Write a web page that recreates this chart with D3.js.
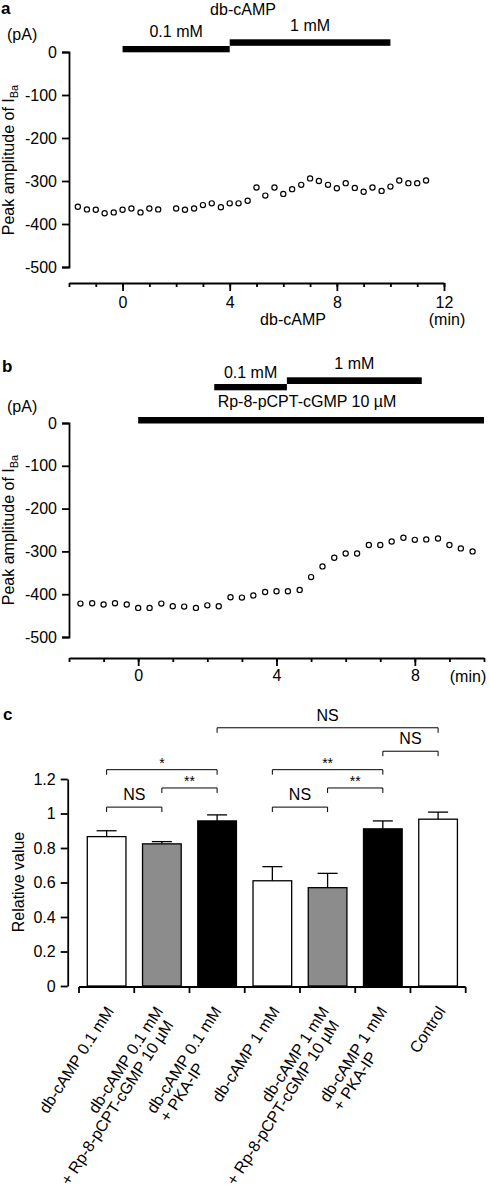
<!DOCTYPE html>
<html><head><meta charset="utf-8">
<script src="https://cdn.jsdelivr.net/npm/d3@7"></script>
<style>
body{margin:0;background:#fff}
svg{display:block}
text{font-family:"Liberation Sans",Arial,Helvetica,sans-serif;fill:#000}
</style>
</head><body>
<svg id="chart" width="490" height="1188"></svg>
<script>
// ---------- Panel a data ----------
const timeA = [-1.67,-1.33,-1,-0.67,-0.33,0,0.33,0.67,1,1.33,
  2,2.33,2.67,3,3.33,3.67,4,4.33,4.67,5,5.33,5.67,6,6.33,6.67,7,7.33,7.67,8,8.33,8.67,9,9.33,9.67,10,10.33,10.67,11,11.33];
const currentA = [-360,-366,-367,-375,-373,-367,-364,-373,-364,-366,
  -364,-367,-364,-356,-352,-361,-352,-352,-346,-315,-334,-315,-330,-319,-309,-294,-300,-309,-317,-305,-316,-325,-315,-323,-313,-299,-305,-305,-299];
const treatmentsA = [["0.1 mM",0,4],["1 mM",4,10]];
const yTicksA = [0,-100,-200,-300,-400,-500];
const xMajorA = [0,4,8,12];
const xMinorA = [-2,-1,0,1,2,3,4,5,6,7,8,9,10,11,12];

// ---------- Panel b data ----------
const timeB = [-1.67,-1.33,-1,-0.67,-0.33,0,0.33,0.67,1,1.33,1.67,2,2.33,2.67,3,3.33,3.67,4,4.33,
  4.67,5,5.33,5.67,6,6.33,6.67,7,7.33,7.67,8,8.33,8.67,9,9.33,9.67];
const currentB = [-422,-421,-424,-421,-424,-432,-432,-422,-428,-429,-432,-426,-428,-407,-408,-403,-395,-393,-393,
  -390,-360,-335,-315,-305,-305,-285,-285,-277,-268,-273,-272,-270,-285,-293,-300];
const treatmentsB = [["0.1 mM",2.2,4.3],["1 mM",4.3,8.2]];
const inhibitorB = [["Rp-8-pCPT-cGMP 10 µM",0,10]];
const yTicksB = [0,-100,-200,-300,-400,-500];
const xMajorB = [0,4,8];
const xMinorB = [-2,-1,0,1,2,3,4,5,6,7,8,9,10];

// ---------- Panel c data ----------
const groups = [
  ["db-cAMP 0.1 mM"],
  ["db-cAMP 0.1 mM","+ Rp-8-pCPT-cGMP 10 µM"],
  ["db-cAMP 0.1 mM","+ PKA-IP"],
  ["db-cAMP 1 mM"],
  ["db-cAMP 1 mM","+ Rp-8-pCPT-cGMP 10 µM"],
  ["db-cAMP 1 mM","+ PKA-IP"],
  ["Control"]
];
const relMean = [0.866,0.824,0.957,0.610,0.570,0.911,0.967];
const relErr  = [0.034,0.013,0.035,0.082,0.083,0.046,0.041];
const barFill = ["#fff","#8c8c8c","#000","#fff","#8c8c8c","#000","#fff"];
const yTicksC = [0,0.2,0.4,0.6,0.8,1,1.2];
// comparisons: [from, to, label, bracket level (relative value units)]
const comparisons = [
  [2,6,"NS",1.497],
  [5,6,"NS",1.361],
  [0,2,"*",1.254],
  [3,5,"**",1.254],
  [1,2,"**",1.148],
  [4,5,"**",1.148],
  [0,1,"NS",1.037],
  [3,4,"NS",1.037]
];

// ---------- drawing ----------
const svg = d3.select("#chart");
const FONT = '"Liberation Sans",Arial,Helvetica,sans-serif';

function styleAxis(g){
  g.attr("font-size",16).attr("font-family",FONT);
  g.selectAll("path,line").attr("stroke","#000").attr("stroke-width",1.8);
  g.selectAll("text").attr("fill","#000");
}
function panelLetter(t,x,y){
  svg.append("text").attr("x",x).attr("y",y).attr("font-size",17).attr("font-weight","bold").text(t);
}
function yLabelIBa(cx,cy){
  const t = svg.append("text").attr("transform",`translate(${cx},${cy}) rotate(-90)`)
    .attr("text-anchor","middle").attr("font-size",16);
  t.append("tspan").text("Peak amplitude of I");
  t.append("tspan").attr("font-size",11).attr("dy","0.35em").text("Ba");
}

// ===== Panel a =====
const xA = d3.scaleLinear().domain([-2,12]).range([69,444]);
const yA = d3.scaleLinear().domain([-500,0]).range([267,52]);
panelLetter("a",1,14);
svg.append("text").attr("x",7).attr("y",40).attr("font-size",16).text("(pA)");
svg.append("g").attr("transform","translate(69,0)")
  .call(d3.axisLeft(yA).tickValues(yTicksA).tickSize(7).tickSizeOuter(7).tickPadding(5).tickFormat(d=>String(d)))
  .call(styleAxis);
svg.append("g").attr("transform","translate(0,283)")
  .call(d3.axisBottom(xA).tickValues(xMinorA).tickSize(4).tickSizeOuter(0).tickFormat(""))
  .call(styleAxis);
svg.append("g").attr("transform","translate(0,283)")
  .call(d3.axisBottom(xA).tickValues(xMajorA).tickSize(8).tickSizeOuter(0).tickPadding(6).tickFormat(d=>String(d)))
  .call(styleAxis).call(g=>g.select(".domain").remove());
svg.append("text").attr("x",447).attr("y",325).attr("text-anchor","middle").attr("font-size",16).text("(min)");
svg.append("text").attr("x",293).attr("y",325).attr("text-anchor","middle").attr("font-size",16).text("db-cAMP");
yLabelIBa(14,160);
// treatment bars
svg.append("text").attr("x",243).attr("y",14.5).attr("text-anchor","middle").attr("font-size",16).text("db-cAMP");
const barLevelA = [{y:46,h:6.3,ty:37},{y:39.3,h:6.5,ty:30.5}];
treatmentsA.forEach((d,i)=>{
  const L = barLevelA[i];
  svg.append("rect").attr("x",xA(d[1])).attr("y",L.y).attr("width",xA(d[2])-xA(d[1])).attr("height",L.h).attr("fill","#000");
  svg.append("text").attr("x",(xA(d[1])+xA(d[2]))/2).attr("y",L.ty).attr("text-anchor","middle").attr("font-size",16).text(d[0]);
});
svg.append("g").selectAll("circle").data(timeA.map((t,i)=>[t,currentA[i]])).join("circle")
  .attr("cx",d=>xA(d[0])).attr("cy",d=>yA(d[1])).attr("r",2.6)
  .attr("fill","#fff").attr("stroke","#000").attr("stroke-width",1.2);

// ===== Panel b =====
const xB = d3.scaleLinear().domain([-2,10]).range([69,484]);
const yB = d3.scaleLinear().domain([-500,0]).range([637,423]);
panelLetter("b",2,372);
svg.append("text").attr("x",7).attr("y",412).attr("font-size",16).text("(pA)");
svg.append("g").attr("transform","translate(69,0)")
  .call(d3.axisLeft(yB).tickValues(yTicksB).tickSize(7).tickSizeOuter(7).tickPadding(5).tickFormat(d=>String(d)))
  .call(styleAxis);
svg.append("g").attr("transform","translate(0,658)")
  .call(d3.axisBottom(xB).tickValues(xMinorB).tickSize(4).tickSizeOuter(0).tickFormat(""))
  .call(styleAxis);
svg.append("g").attr("transform","translate(0,658)")
  .call(d3.axisBottom(xB).tickValues(xMajorB).tickSize(8).tickSizeOuter(0).tickPadding(4).tickFormat(d=>String(d)))
  .call(styleAxis).call(g=>g.select(".domain").remove());
svg.append("text").attr("x",468).attr("y",681.5).attr("text-anchor","middle").attr("font-size",16).text("(min)");
yLabelIBa(14,530);
const barLevelB = [{y:384,h:6.3,ty:378},{y:377.3,h:6.7,ty:369}];
treatmentsB.forEach((d,i)=>{
  const L = barLevelB[i];
  svg.append("rect").attr("x",xB(d[1])).attr("y",L.y).attr("width",xB(d[2])-xB(d[1])).attr("height",L.h).attr("fill","#000");
  svg.append("text").attr("x",(xB(d[1])+xB(d[2]))/2).attr("y",L.ty).attr("text-anchor","middle").attr("font-size",16).text(d[0]);
});
inhibitorB.forEach(d=>{
  svg.append("rect").attr("x",xB(d[1])).attr("y",417).attr("width",xB(d[2])-xB(d[1])).attr("height",6.5).attr("fill","#000");
  svg.append("text").attr("x",307).attr("y",407).attr("text-anchor","middle").attr("font-size",16).text(d[0]);
});
svg.append("g").selectAll("circle").data(timeB.map((t,i)=>[t,currentB[i]])).join("circle")
  .attr("cx",d=>xB(d[0])).attr("cy",d=>yB(d[1])).attr("r",2.6)
  .attr("fill","#fff").attr("stroke","#000").attr("stroke-width",1.2);

// ===== Panel c =====
const idx = groups.map((g,i)=>i);
const xC = d3.scaleBand().domain(idx).range([79,465.7]).paddingInner(0.3).paddingOuter(0.15);
const yC = d3.scaleLinear().domain([0,1.2]).range([986,779]);
panelLetter("c",3,720);
svg.append("g").attr("transform","translate(67.7,0)")
  .call(d3.axisLeft(yC).tickValues(yTicksC).tickSize(7).tickSizeOuter(0).tickPadding(5).tickFormat(d=>String(+d.toFixed(1))))
  .call(styleAxis);
svg.append("text").attr("transform","translate(24,882) rotate(-90)").attr("text-anchor","middle").attr("font-size",16).text("Relative value");
// x axis with boundary ticks
const gx = svg.append("g").attr("transform","translate(0,987)");
gx.append("line").attr("x1",xC.range()[0]).attr("x2",xC.range()[1]).attr("stroke","#000").attr("stroke-width",1.8);
gx.selectAll("line.tk").data(d3.range(groups.length+1)).join("line").attr("class","tk")
  .attr("x1",i=>xC.range()[0]+i*xC.step()).attr("x2",i=>xC.range()[0]+i*xC.step())
  .attr("y1",0).attr("y2",6).attr("stroke","#000").attr("stroke-width",1.8);
const cx = i => xC(i)+xC.bandwidth()/2;
// error bars
svg.append("g").selectAll("g").data(idx).join("g").each(function(i){
  const g = d3.select(this);
  g.append("line").attr("x1",cx(i)).attr("x2",cx(i)).attr("y1",yC(relMean[i])).attr("y2",yC(relMean[i]+relErr[i])).attr("stroke","#000").attr("stroke-width",1.3);
  g.append("line").attr("x1",cx(i)-10).attr("x2",cx(i)+10).attr("y1",yC(relMean[i]+relErr[i])).attr("y2",yC(relMean[i]+relErr[i])).attr("stroke","#000").attr("stroke-width",1.3);
});
svg.append("g").selectAll("rect").data(idx).join("rect")
  .attr("x",i=>xC(i)).attr("width",xC.bandwidth())
  .attr("y",i=>yC(relMean[i])).attr("height",i=>yC(0)-yC(relMean[i]))
  .attr("fill",i=>barFill[i]).attr("stroke","#000").attr("stroke-width",1.3);
// brackets
comparisons.forEach(([a,b,lab,lev])=>{
  const y = yC(lev), x1 = cx(a), x2 = cx(b);
  svg.append("path").attr("d",`M${x1},${y+5}V${y}H${x2}V${y+5}`).attr("fill","none").attr("stroke","#000").attr("stroke-width",1);
  const star = lab.indexOf("*")>=0;
  svg.append("text").attr("x",(x1+x2)/2).attr("y",star? y-1.5 : y-7).attr("text-anchor","middle")
    .attr("font-size",star?14:16).text(lab);
});
// rotated category labels
const ANG = -57, rad = ANG*Math.PI/180;
const ux = Math.cos(rad), uy = Math.sin(rad);      // along text
const px = -Math.sin(rad), py = Math.cos(rad);     // perpendicular (down in text frame)
const FS = 16, LH = 16;
groups.forEach((lines,i)=>{
  const c = cx(i), ay = 1011;
  if(lines.length===1){
    svg.append("text").attr("transform",`translate(${c+8},${ay}) rotate(${ANG})`)
      .attr("text-anchor","end").attr("font-size",FS).text(lines[0]);
    return;
  }
  const t1 = svg.append("text").attr("text-anchor","end").attr("font-size",FS).text(lines[0]);
  const t2 = svg.append("text").attr("font-size",FS).text(lines[1]);
  const w1 = t1.node().getComputedTextLength(), w2 = t2.node().getComputedTextLength();
  if(w2>w1){
    const ax = c+2;
    t1.attr("transform",`translate(${ax},${ay}) rotate(${ANG})`);
    t2.attr("text-anchor","end").attr("transform",`translate(${ax+px*LH-ux*6},${ay+py*LH-uy*6}) rotate(${ANG})`);
  } else {
    const ax = c+5;
    t1.attr("transform",`translate(${ax},${ay}) rotate(${ANG})`);
    const sx = ax - ux*w1 + px*LH, sy = ay - uy*w1 + py*LH;
    t2.attr("text-anchor","start").attr("transform",`translate(${sx},${sy}) rotate(${ANG})`);
  }
});
</script>
</body></html>
